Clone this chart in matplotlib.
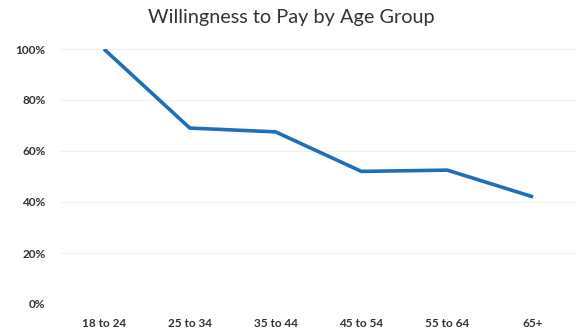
import matplotlib
matplotlib.use("Agg")
import matplotlib.pyplot as plt
from matplotlib.ticker import FuncFormatter

age_groups = ["18 to 24", "25 to 34", "35 to 44", "45 to 54", "55 to 64", "65+"]
willingness = [100, 69, 67.5, 52, 52.5, 42]
y_ticks = [0, 20, 40, 60, 80, 100]

plt.rcParams['font.family'] = ['Lato', 'DejaVu Sans']

fig = plt.figure(figsize=(5.83, 3.32), dpi=100)
ax = fig.add_axes([61 / 583, 1 - 304 / 332, (576 - 61) / 583, (304 - 49) / 332])

x = list(range(len(age_groups)))
ax.plot(x, willingness, color="#1f6fb8", linewidth=2.6, solid_joinstyle="miter",
        solid_capstyle="butt", zorder=3)

ax.set_xlim(-0.5, len(age_groups) - 0.5)
ax.set_ylim(0, 100)
ax.set_yticks(y_ticks)
ax.yaxis.set_major_formatter(FuncFormatter(lambda v, _: f"{int(v)}%"))
ax.set_xticks(x)
ax.set_xticklabels(age_groups)

ax.grid(axis="y", color="#efefef", linewidth=0.8)
ax.set_axisbelow(True)
for s in ax.spines.values():
    s.set_visible(False)
ax.tick_params(axis="both", length=0, labelsize=8.5, colors="#333333")
ax.tick_params(axis="y", pad=11)
ax.tick_params(axis="x", pad=10)
for lbl in ax.get_yticklabels() + ax.get_xticklabels():
    lbl.set_fontweight("bold")

fig.text(0.5, 1 - 18 / 332, "Willingness to Pay by Age Group", ha="center", va="center",
         fontsize=14.3, color="#333333")

fig.savefig("out.png", dpi=100, facecolor="white")
